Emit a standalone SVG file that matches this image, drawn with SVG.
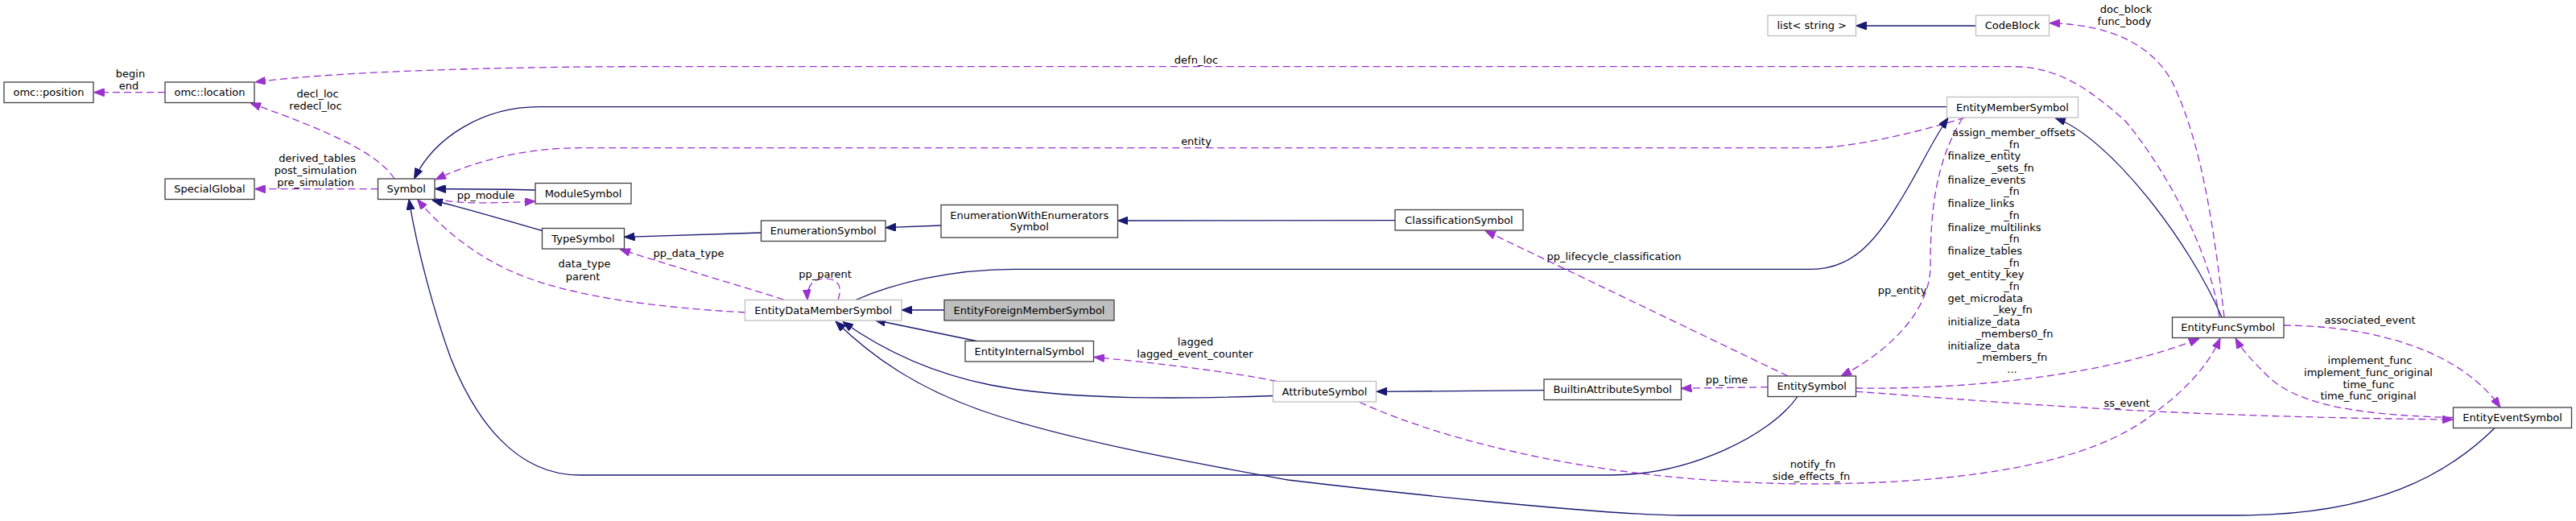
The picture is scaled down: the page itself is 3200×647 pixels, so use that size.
<svg xmlns="http://www.w3.org/2000/svg" width="3200" height="647" viewBox="0 0 3200 647">
<style>
.n rect{fill:#ffffff;stroke:#404040;stroke-width:1.3}
.g rect{fill:#ffffff;stroke:#bfbfbf;stroke-width:1.3}
.f rect{fill:#bfbfbf;stroke:#404040;stroke-width:1.3}
text{font-family:"DejaVu Sans","Liberation Sans",sans-serif;font-size:13px;fill:#000000}
.c{text-anchor:middle}
.s{text-anchor:start}
.in{fill:none;stroke:#191970;stroke-width:1.3;marker-end:url(#an)}
.us{fill:none;stroke:#9a32cd;stroke-width:1.3;stroke-dasharray:9,5;marker-end:url(#ap)}
.usn{fill:none;stroke:#9a32cd;stroke-width:1.3;stroke-dasharray:9,5}
</style>
<defs>
<marker id="an" markerWidth="13" markerHeight="10" refX="13" refY="5" orient="auto" markerUnits="userSpaceOnUse" viewBox="0 0 13 10"><path d="M0,0 L13,5 L0,10 z" fill="#191970" stroke="#191970" stroke-width="1" stroke-dasharray="none"/></marker>
<marker id="ap" markerWidth="13" markerHeight="10" refX="13" refY="5" orient="auto" markerUnits="userSpaceOnUse" viewBox="0 0 13 10"><path d="M0,0 L13,5 L0,10 z" fill="#9a32cd" stroke="#9a32cd" stroke-width="1" stroke-dasharray="none"/></marker>
</defs>
<rect x="0" y="0" width="3200" height="647" fill="#ffffff"/>

<g id="connectors">
<!-- omc::location -> omc::position -->
<path class="us" d="M205,114.7 L116.5,114.7"/>
<text class="c" x="162" y="96.3">begin</text>
<text class="c" x="160" y="111.3">end</text>
<!-- Symbol -> omc::location -->
<path class="us" d="M490,222 C468,188 400,160 311,128"/>
<text class="c" x="394.5" y="121.3">decl_loc</text>
<text class="c" x="392" y="136.3">redecl_loc</text>
<!-- Symbol -> SpecialGlobal -->
<path class="us" d="M469.5,234.7 L316.5,234.7"/>
<text class="c" x="394" y="201.3">derived_tables</text>
<text class="c" x="392" y="216.3">post_simulation</text>
<text class="c" x="392" y="231.3">pre_simulation</text>
<!-- ModuleSymbol -> Symbol -->
<path class="in" d="M665,236 C620,235 580,234.5 540.5,234.5"/>
<!-- Symbol -> ModuleSymbol pp_module -->
<path class="us" d="M540,246 C560,253 600,253 665,250"/>
<text class="c" x="603.5" y="246.8">pp_module</text>
<!-- TypeSymbol -> Symbol -->
<path class="in" d="M673.5,286.5 C640,277 590,262 537,248.5"/>
<!-- EnumerationSymbol -> TypeSymbol -->
<path class="in" d="M945.5,289 L775.5,294.3"/>
<!-- EWES -> EnumerationSymbol -->
<path class="in" d="M1169,280 L1100,282.7"/>
<!-- ClassificationSymbol -> EWES -->
<path class="in" d="M1733,273.7 L1388.5,274"/>
<!-- EDMS self loop pp_parent -->
<path class="us" d="M1041,372.5 C1048,352 1038,346 1024,346 C1010,346 1002,355 1003,372.5"/>
<text class="c" x="1025" y="344.5">pp_parent</text>
<!-- EDMS -> TypeSymbol pp_data_type -->
<path class="us" d="M973.5,372 C920,355 850,335 770,309.5"/>
<text class="c" x="855.5" y="319.3">pp_data_type</text>
<!-- EDMS -> Symbol data_type parent -->
<path class="us" d="M925.5,388 C820,382 720,370 650,343 C590,320 545,280 518.5,247.5"/>
<text class="c" x="726" y="332.3">data_type</text>
<text class="c" x="724" y="347.6">parent</text>
<!-- EFMS -> EDMS -->
<path class="in" d="M1173,385 L1120,385"/>
<!-- EIS -> EDMS -->
<path class="in" d="M1213,423.5 L1087,397.5"/>
<!-- AttributeSymbol -> EDMS -->
<path class="in" d="M1581.5,491.5 C1480,495 1330,498 1230,478 C1150,462 1090,430 1047,399.5"/>
<!-- EntityEventSymbol -> EDMS -->
<path class="in" d="M3099,531.5 C3040,590 2950,640 2780,640 L2090,640 C1990,640 1700,608 1600,596 C1500,578 1330,548 1220,510 C1140,482 1085,445 1038,399"/>
<!-- EntitySymbol -> Symbol -->
<path class="in" d="M2233,492.5 C2200,540 2100,590 2000,590 L720,590 C640,590 590,520 560,445 C540,390 518,310 508,247.5"/>
<!-- EntityMemberSymbol -> Symbol -->
<path class="in" d="M2418.5,132.7 L670,132.7 C600,132.7 540,170 514.5,222"/>
<!-- EntityMemberSymbol -> Symbol entity -->
<path class="us" d="M2441,146 C2380,165 2300,183.7 2250,183.7 L720,183.7 C650,183.7 590,200 541,223"/>
<text class="c" x="1486" y="180.3">entity</text>
<!-- EntityFuncSymbol -> omc::location defn_loc -->
<path class="us" d="M2757,394 C2745,310 2690,210 2640,150 C2600,115 2560,82.7 2500,82.7 L800,82.7 C640,82.7 420,88 317,102"/>
<text class="c" x="1486" y="79.3">defn_loc</text>
<!-- EntityFuncSymbol -> CodeBlock -->
<path class="us" d="M2763,394 C2750,280 2735,180 2700,105 C2675,55 2620,30 2546,28.7"/>
<text class="c" x="2641" y="16.3">doc_block</text>
<text class="c" x="2639" y="31.3">func_body</text>
<!-- CodeBlock -> list< string > -->
<path class="in" d="M2454.5,32 L2305.5,32"/>
<!-- EntityFuncSymbol -> EntityMemberSymbol -->
<path class="in" d="M2760,394 C2720,300 2620,170 2553,146.5"/>
<!-- EDMS -> EntityMemberSymbol -->
<path class="in" d="M1063,372.5 C1110,352 1180,334.3 1260,334.3 L2250,334.3 C2300,334.3 2330,300 2360,250 C2385,210 2400,175 2420,146.5"/>
<!-- EntitySymbol -> ClassificationSymbol -->
<path class="us" d="M2221,467 L1845,286.5"/>
<text class="c" x="2005" y="322.9">pp_lifecycle_classification</text>
<!-- EntityMemberSymbol -> EntitySymbol pp_entity -->
<path class="us" d="M2438,146.5 C2405,200 2398,260 2398,330 C2398,390 2340,440 2287,467"/>
<text class="c" x="2363" y="364.9">pp_entity</text>
<!-- EntitySymbol -> BuiltinAttributeSymbol pp_time -->
<path class="us" d="M2196,480.7 L2088.5,482.3"/>
<text class="c" x="2145" y="476.3">pp_time</text>
<!-- BuiltinAttributeSymbol -> AttributeSymbol -->
<path class="in" d="M1918,484.7 L1710,486.3"/>
<!-- AttributeSymbol -> EntityInternalSymbol -->
<path class="us" d="M1586,473.5 C1530,462 1430,450 1359,443.5"/>
<text class="c" x="1485" y="429.3">lagged</text>
<text class="c" x="1484.5" y="444.3">lagged_event_counter</text>
<!-- AttributeSymbol -> EntityFuncSymbol notify -->
<path class="us" d="M1689,499.5 C1800,550 2000,600 2250,601 C2500,600 2620,560 2680,510 C2720,480 2745,450 2758,420"/>
<text class="c" x="2252" y="580.9">notify_fn</text>
<text class="c" x="2250" y="595.9">side_effects_fn</text>
<!-- EntitySymbol -> EntityFuncSymbol long label -->
<path class="us" d="M2305.5,482 C2450,484 2620,465 2732,420.5"/>
<text class="c" x="2501.5" y="168.9">assign_member_offsets</text>
<text class="c" x="2499" y="183.6">_fn</text>
<text class="s" x="2419.5" y="198.3">finalize_entity</text>
<text class="c" x="2500.5" y="213">_sets_fn</text>
<text class="s" x="2419.5" y="227.7">finalize_events</text>
<text class="c" x="2499" y="242.4">_fn</text>
<text class="s" x="2419.5" y="257.1">finalize_links</text>
<text class="c" x="2499" y="271.8">_fn</text>
<text class="s" x="2419.5" y="286.5">finalize_multilinks</text>
<text class="c" x="2499" y="301.2">_fn</text>
<text class="s" x="2419.5" y="315.9">finalize_tables</text>
<text class="c" x="2499" y="330.6">_fn</text>
<text class="s" x="2419.5" y="345.3">get_entity_key</text>
<text class="c" x="2499" y="360">_fn</text>
<text class="s" x="2419.5" y="374.7">get_microdata</text>
<text class="c" x="2500.5" y="389.4">_key_fn</text>
<text class="s" x="2419.5" y="404.1">initialize_data</text>
<text class="c" x="2502.5" y="418.8">_members0_fn</text>
<text class="s" x="2419.5" y="433.5">initialize_data</text>
<text class="c" x="2499.5" y="448.2">_members_fn</text>
<text class="c" x="2499.5" y="462.9">...</text>
<!-- EntityFuncSymbol -> EntityEventSymbol associated_event -->
<path class="us" d="M2837,404 C2960,405 3060,440 3106,506"/>
<text class="c" x="2944" y="401.6">associated_event</text>
<!-- EntityEventSymbol -> EntityFuncSymbol implement_func -->
<path class="us" d="M3047.5,518.5 C2900,515 2850,495 2820,470 C2800,450 2785,435 2777,420"/>
<text class="c" x="2944" y="452.3">implement_func</text>
<text class="c" x="2942" y="467">implement_func_original</text>
<text class="c" x="2942.5" y="481.7">time_func</text>
<text class="c" x="2942" y="496.4">time_func_original</text>
<!-- EntitySymbol -> EntityEventSymbol ss_event -->
<path class="us" d="M2305.5,486.3 C2450,496 2650,517 3047,521"/>
<text class="c" x="2642" y="504.9">ss_event</text>
</g>

<g id="node-omc-position" class="n"><rect x="5" y="102" width="111" height="25.5"/><text class="c" x="60.5" y="119.3">omc::position</text></g>
<g id="node-omc-location" class="n"><rect x="205" y="102" width="111" height="25.5"/><text class="c" x="260.5" y="119.3">omc::location</text></g>
<g id="node-SpecialGlobal" class="n"><rect x="205" y="222" width="111" height="25.5"/><text class="c" x="260.5" y="239.3">SpecialGlobal</text></g>
<g id="node-Symbol" class="n"><rect x="469.5" y="222" width="70.5" height="25.5"/><text class="c" x="504.7" y="239.3">Symbol</text></g>
<g id="node-ModuleSymbol" class="n"><rect x="665" y="227.5" width="119" height="25.5"/><text class="c" x="724.5" y="244.8">ModuleSymbol</text></g>
<g id="node-TypeSymbol" class="n"><rect x="673.5" y="283.5" width="102" height="25.5"/><text class="c" x="724.5" y="300.8">TypeSymbol</text></g>
<g id="node-EnumerationSymbol" class="n"><rect x="945.5" y="274" width="154.5" height="25.5"/><text class="c" x="1022.7" y="291.3">EnumerationSymbol</text></g>
<g id="node-EnumerationWithEnumeratorsSymbol" class="n"><rect x="1169" y="254.5" width="219.5" height="40.5"/><text class="c" x="1278.7" y="271.6">EnumerationWithEnumerators</text><text class="c" x="1278.7" y="285.6">Symbol</text></g>
<g id="node-ClassificationSymbol" class="n"><rect x="1733" y="260.5" width="159" height="25.5"/><text class="c" x="1812.5" y="277.8">ClassificationSymbol</text></g>
<g id="node-EntityDataMemberSymbol" class="g"><rect x="925.5" y="372.5" width="194.5" height="25.5"/><text class="c" x="1022.7" y="389.8">EntityDataMemberSymbol</text></g>
<g id="node-EntityForeignMemberSymbol" class="f"><rect x="1173" y="372.5" width="211" height="25.5"/><text class="c" x="1278.5" y="389.8">EntityForeignMemberSymbol</text></g>
<g id="node-EntityInternalSymbol" class="n"><rect x="1199" y="423.5" width="159.5" height="25.5"/><text class="c" x="1278.7" y="440.8">EntityInternalSymbol</text></g>
<g id="node-AttributeSymbol" class="g"><rect x="1581.5" y="473.5" width="128" height="25.5"/><text class="c" x="1645.5" y="490.8">AttributeSymbol</text></g>
<g id="node-BuiltinAttributeSymbol" class="n"><rect x="1918" y="471" width="170.5" height="25.5"/><text class="c" x="2003.2" y="488.3">BuiltinAttributeSymbol</text></g>
<g id="node-EntitySymbol" class="n"><rect x="2196" y="467" width="109.5" height="25.5"/><text class="c" x="2250.7" y="484.3">EntitySymbol</text></g>
<g id="node-list-string" class="g"><rect x="2196" y="19" width="109.5" height="25.5"/><text class="c" x="2250.7" y="36.3">list&lt; string &gt;</text></g>
<g id="node-CodeBlock" class="g"><rect x="2454.5" y="19" width="91" height="25.5"/><text class="c" x="2500" y="36.3">CodeBlock</text></g>
<g id="node-EntityMemberSymbol" class="g"><rect x="2418.5" y="120.5" width="163" height="25.5"/><text class="c" x="2500" y="137.8">EntityMemberSymbol</text></g>
<g id="node-EntityFuncSymbol" class="n"><rect x="2698.5" y="394" width="138.5" height="25.5"/><text class="c" x="2767.7" y="411.3">EntityFuncSymbol</text></g>
<g id="node-EntityEventSymbol" class="n"><rect x="3047.5" y="506" width="147" height="25.5"/><text class="c" x="3121" y="523.3">EntityEventSymbol</text></g>
</svg>
